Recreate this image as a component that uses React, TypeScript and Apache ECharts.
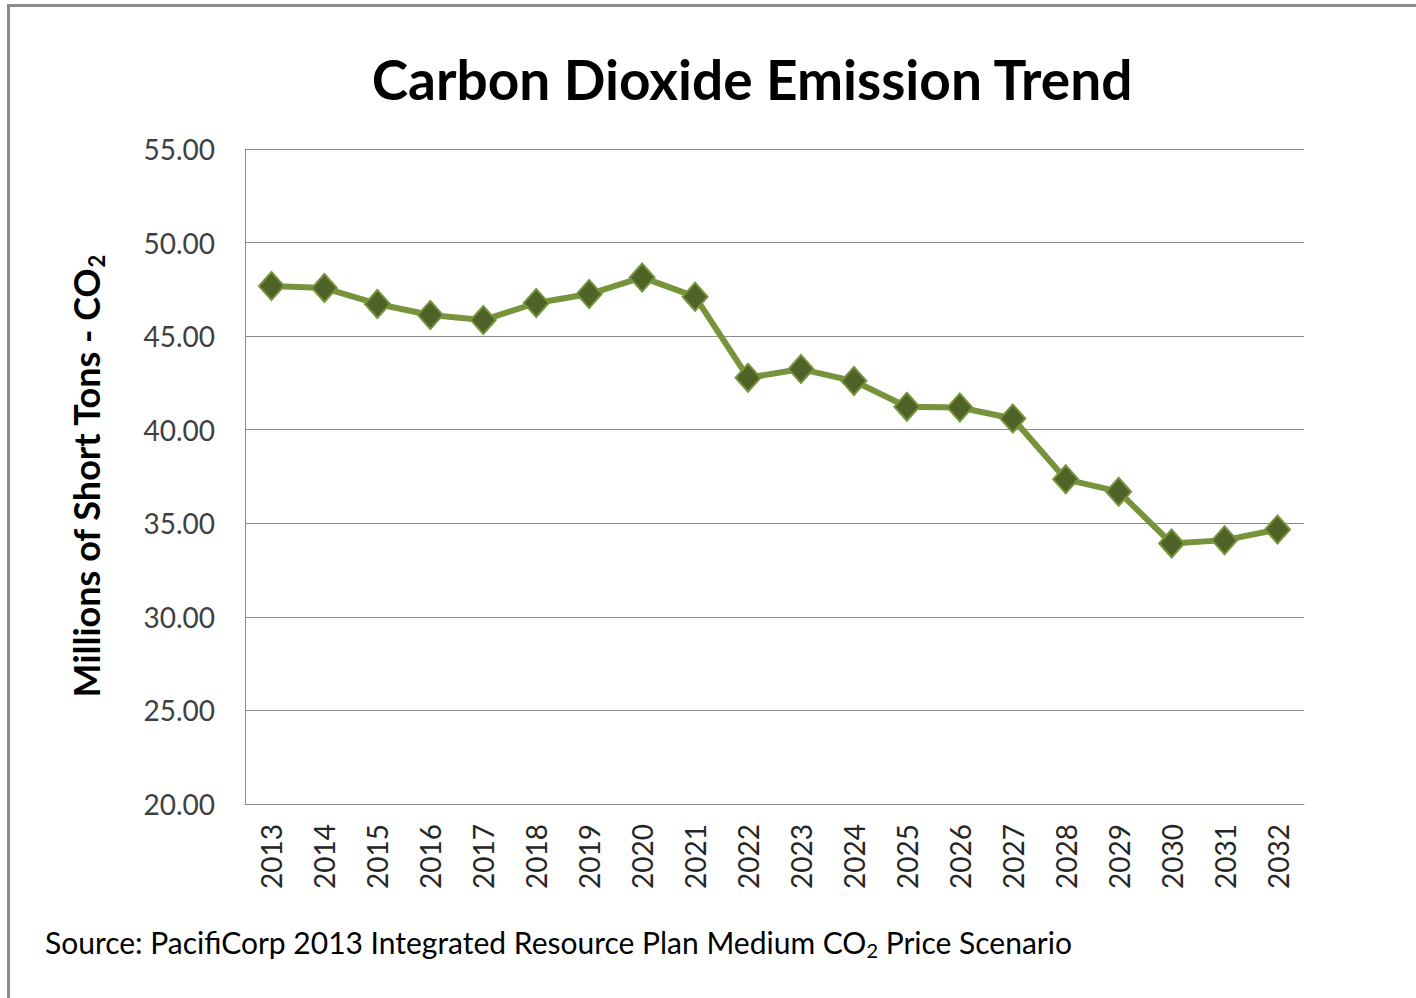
import { useEffect, useRef } from "react";
import * as echarts from "echarts";

const years = [
  "2013", "2014", "2015", "2016", "2017", "2018", "2019", "2020", "2021", "2022",
  "2023", "2024", "2025", "2026", "2027", "2028", "2029", "2030", "2031", "2032",
];
const emissions = [
  47.68, 47.57, 46.72, 46.13, 45.86, 46.77, 47.25, 48.14, 47.11, 42.78,
  43.24, 42.6, 41.23, 41.19, 40.6, 37.35, 36.69, 33.92, 34.1, 34.67,
];
const yMin = 20;
const yMax = 55;
const yStep = 5;

const titleText = "Carbon Dioxide Emission Trend";
const yName = "Millions of Short Tons - CO";
const sourceA = "Source: PacifiCorp 2013 Integrated Resource Plan Medium CO";
const sourceB = " Price Scenario";

const FONT = "Lato, 'Open Sans', sans-serif";

export default function App() {
  const ref = useRef<HTMLDivElement>(null);
  useEffect(() => {
    document.body.style.margin = "0";
    const chart = echarts.init(ref.current!, null, { renderer: "svg" });
    chart.setOption({
      animation: false,
      backgroundColor: "#ffffff",
      textStyle: { fontFamily: FONT },
      title: {
        text: titleText,
        left: 747,
        top: 46,
        textAlign: "center",
        textStyle: { fontFamily: FONT, fontSize: 55, fontWeight: "bold", color: "#000000" },
      },
      grid: { left: 245, right: 112, top: 149, bottom: 194, containLabel: false },
      xAxis: {
        type: "category",
        data: years,
        boundaryGap: true,
        axisLine: { show: true, lineStyle: { color: "#8c8c8c", width: 1 } },
        axisTick: { show: false },
        axisLabel: { rotate: 90, margin: 20, fontSize: 28, color: "#262626", fontFamily: FONT },
        splitLine: { show: false },
      },
      yAxis: {
        type: "value",
        min: yMin,
        max: yMax,
        interval: yStep,
        axisLine: { show: true, lineStyle: { color: "#8c8c8c", width: 1 } },
        axisTick: { show: false },
        axisLabel: {
          margin: 30,
          fontSize: 28,
          color: "#404040",
          fontFamily: FONT,
          formatter: (v: number) => v.toFixed(2),
        },
        splitLine: { show: true, lineStyle: { color: "#8c8c8c", width: 1 } },
        name: "{a|" + yName + "}{s|2}",
        nameLocation: "middle",
        nameGap: 138,
        nameTextStyle: {
          rich: {
            a: { fontFamily: FONT, fontSize: 36, fontWeight: "bold", color: "#000", lineHeight: 42 },
            s: {
              fontFamily: FONT,
              fontSize: 22,
              fontWeight: "bold",
              color: "#000",
              lineHeight: 22,
              verticalAlign: "bottom",
            },
          },
        },
      },
      series: [
        {
          type: "line",
          data: emissions,
          symbol: "diamond",
          symbolSize: [25, 28],
          lineStyle: { color: "#77933C", width: 6 },
          itemStyle: { color: "#4F6228", borderColor: "#77933C", borderWidth: 2 },
        },
      ],
      graphic: [
        {
          type: "line",
          shape: { x1: 8, y1: 5.5, x2: 1416, y2: 5.5 },
          style: { stroke: "#8c8c8c", lineWidth: 3 },
        },
        {
          type: "line",
          shape: { x1: 8.5, y1: 4, x2: 8.5, y2: 998 },
          style: { stroke: "#8c8c8c", lineWidth: 3 },
        },
        {
          type: "text",
          x: 45,
          y: 942,
          style: {
            text: "{a|" + sourceA + "}{s|2}{a|" + sourceB + "}",
            verticalAlign: "middle",
            rich: {
              a: { fontFamily: FONT, fontSize: 30, color: "#262626", lineHeight: 36 },
              s: { fontFamily: FONT, fontSize: 20, color: "#262626", lineHeight: 20, verticalAlign: "bottom" },
            },
          },
        },
      ],
    });
    return () => chart.dispose();
  }, []);
  return <div ref={ref} style={{ width: 1416, height: 998 }} />;
}
